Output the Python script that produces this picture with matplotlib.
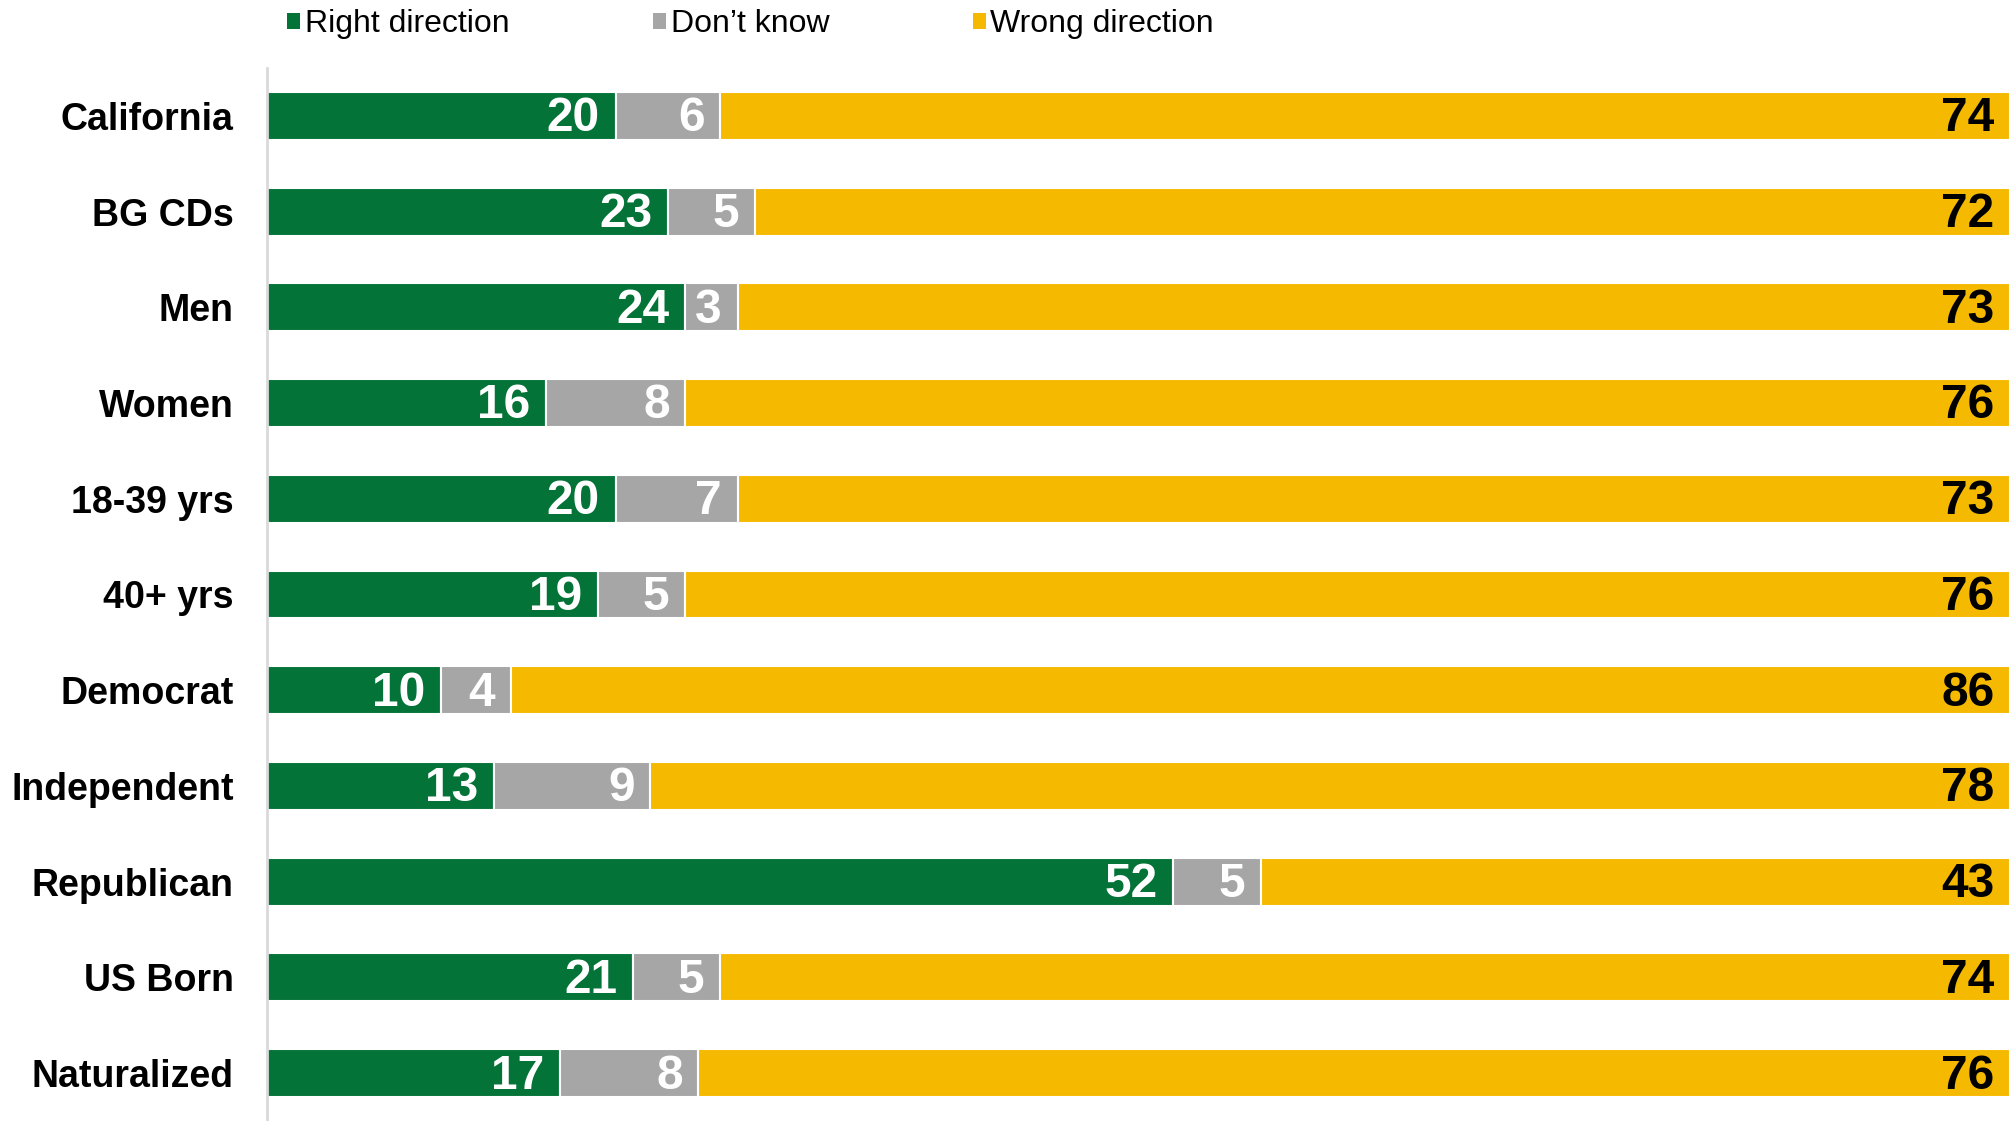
import numpy as np
import matplotlib.pyplot as plt
from matplotlib.patches import Patch

groups = ["California", "BG CDs", "Men", "Women", "18-39 yrs", "40+ yrs",
          "Democrat", "Independent", "Republican", "US Born", "Naturalized"]
right = [20, 23, 24, 16, 20, 19, 10, 13, 52, 21, 17]
dont_know = [6, 5, 3, 8, 7, 5, 4, 9, 5, 5, 8]
wrong = [74, 72, 73, 76, 73, 76, 86, 78, 43, 74, 76]

series = ["Right direction", "Don\u2019t know", "Wrong direction"]
colors = ["#037337", "#A6A6A6", "#F5BA00"]
label_colors = ["white", "white", "black"]

plt.rcParams['font.family'] = ['Liberation Sans', 'DejaVu Sans']

data = np.array([right, dont_know, wrong], dtype=float)
# rounded shares don't always add to 100, scale each row to full width
shares = data / data.sum(axis=0) * 100

fig = plt.figure(figsize=(20.1, 11.21), dpi=100)
ax = fig.add_axes([267 / 2010, 0.0, 1 - 267 / 2010, 1 - 68 / 1121])

y = np.arange(len(groups))
left = np.zeros(len(groups))
for vals, widths, col, tcol in zip(data, shares, colors, label_colors):
    ax.barh(y, widths, left=left, height=0.5, color=col,
            edgecolor="white", linewidth=1.5)
    for yi, l, w, v in zip(y, left, widths, vals):
        ax.text(l + w - 0.9, yi + 0.03, f"{int(v)}", ha="right", va="center",
                color=tcol, fontsize=34.5, fontweight="bold")
    left += widths

ax.set_xlim(0, 100)
ax.set_ylim(len(groups) - 0.5, -0.5)
ax.set_yticks(y)
ax.set_yticklabels(groups, fontsize=27, fontweight="bold")
ax.tick_params(axis="y", length=0, pad=24)
ax.set_xticks([])
for s in ["top", "right", "bottom"]:
    ax.spines[s].set_visible(False)
ax.spines["left"].set_color("#D9D9D9")
ax.spines["left"].set_linewidth(2)

handles = [Patch(facecolor=c, edgecolor="none") for c in colors]
fig.legend(handles, series, loc="center left",
           bbox_to_anchor=(287 / 2010, 1 - 24 / 1121), ncol=3, frameon=False,
           fontsize=23, handlelength=0.4, handleheight=0.4,
           handletextpad=0.15, columnspacing=4.5, borderpad=0,
           borderaxespad=0)

fig.savefig("out.png", dpi=100)
